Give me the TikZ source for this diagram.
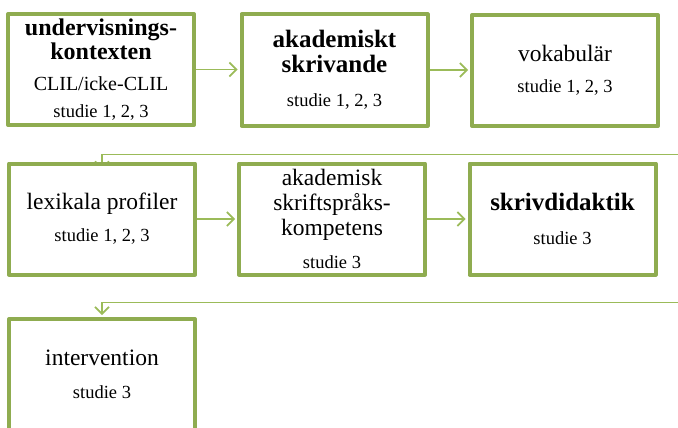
\documentclass[tikz,border=0pt]{standalone}
\usepackage{fontspec}
\setmainfont{Liberation Serif}
\usetikzlibrary{arrows.meta,backgrounds}
\definecolor{boxgreen}{RGB}{143,172,80}
\definecolor{linegreen}{RGB}{155,187,89}
\newcommand\mytitle{\fontsize{25}{25}\selectfont\bfseries}
\newcommand\mytitlesm{\fontsize{24}{25}\selectfont\bfseries}
\newcommand\mystud{\fontsize{18.5}{25}\selectfont}
\newcommand\myclil{\fontsize{20}{25}\selectfont}
\tikzset{
  boxnode/.style={draw=boxgreen, line width=4pt, line join=round, fill=white,
    minimum width=186pt, minimum height=111pt, inner sep=0pt, align=center,
    text=black, font=\fontsize{23.5}{25}\selectfont},
  conn/.style={draw=linegreen, line width=1.6pt,
    -{Straight Barb[length=7pt,width=14pt]}, shorten >=2pt}
}
\begin{document}
\begin{tikzpicture}[x=1pt,y=1pt]
\useasboundingbox (0,0) rectangle (678,-428);
\node[boxnode] (b1) at (101,-69.5) {{\mytitlesm undervisnings-}\\[-1pt]{\mytitlesm kontexten}\\[6pt]{\myclil CLIL/icke-CLIL}\\[2pt]{\mystud studie 1, 2, 3}};
\node[boxnode] (b2) at (334.5,-70) {{\mytitle akademiskt}\\{\mytitle skrivande}\\[9pt]{\mystud studie 1, 2, 3}};
\node[boxnode] (b3) at (565,-70.5) {vokabulär\\[6pt]{\mystud studie 1, 2, 3}};
\node[boxnode] (b4) at (102,-219) {lexikala profiler\\[7pt]{\mystud studie 1, 2, 3}};
\node[boxnode] (b5) at (332,-219) {akademisk\\skriftspråks-\\kompetens\\[8pt]{\mystud studie 3}};
\node[boxnode] (b6) at (562.5,-219) {{\mytitle skrivdidaktik}\\[9pt]{\mystud studie 3}};
\node[boxnode] (b7) at (102,-374.5) {intervention\\[8pt]{\mystud studie 3}};
\coordinate (r1) at (678,-154.5);
\coordinate (r2) at (678,-302.5);
\begin{scope}[on background layer]
\draw[conn] (b1.east) -- (b1.east -| b2.west);
\draw[conn] (b2.east) -- (b2.east -| b3.west);
\draw[conn] (b4.east) -- (b4.east -| b5.west);
\draw[conn] (b5.east) -- (b5.east -| b6.west);
\draw[conn] (r1) -| ([yshift=-10pt]b4.north);
\draw[conn] (r2) -| (b7.north);
\end{scope}
\end{tikzpicture}
\end{document}
